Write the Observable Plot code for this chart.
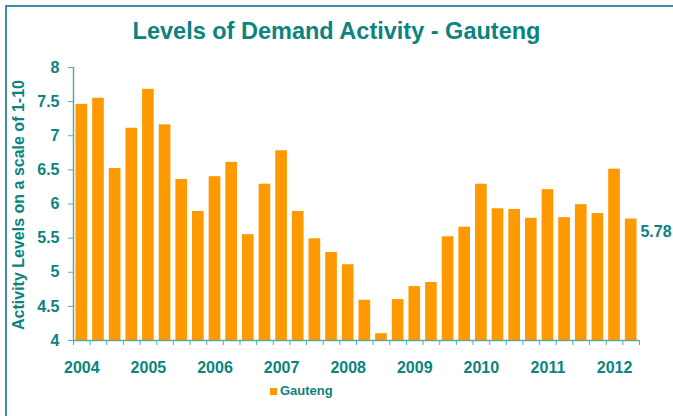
<!DOCTYPE html>
<html>
<head>
<meta charset="utf-8">
<script src="https://cdn.jsdelivr.net/npm/d3@7"></script>
<script src="https://cdn.jsdelivr.net/npm/@observablehq/plot@0.6"></script>
<style>
  html, body { margin: 0; padding: 0; background: #fff; }
  #wrap { position: relative; width: 673px; height: 416px; overflow: hidden;
          font-family: "Liberation Sans", Arial, sans-serif; }
  #frame { position: absolute; left: 5px; top: 5px; width: 680px; height: 420px;
           border-top: 2.5px solid #3d8ea2; border-left: 2.5px solid #3d8ea2; box-sizing: border-box; }
  #title { position: absolute; left: 0; width: 673px; top: 20px; text-align: center;
           font-size: 23.5px; line-height: 23px; font-weight: bold; color: #0b837f; white-space: nowrap; }
  #ylabel { position: absolute; width: 320px; left: -141px; top: 196.5px; height: 16px;
            font-size: 16px; line-height: 16px; font-weight: bold; color: #0b837f; text-align: center;
            transform: rotate(-90deg); transform-origin: 160px 8px; white-space: nowrap; }
  #legend { position: absolute; left: 270px; top: 383px; font-size: 13px; line-height: 16px;
            font-weight: bold; color: #0b837f; white-space: nowrap; }
  #legend .sw { display: inline-block; width: 7px; height: 7px; background: #ff9900; margin-right: 3px; vertical-align: 0px; }
  #chart { position: absolute; left: 0; top: 0; }
</style>
</head>
<body>
<div id="wrap">
  <div id="frame"></div>
  <div id="chart"></div>
  <div id="title">Levels of Demand Activity - Gauteng</div>
  <div id="ylabel">Activity Levels on a scale of 1-10</div>
  <div id="legend"><span class="sw"></span>Gauteng</div>
</div>
<script>
const quarters = [
  "2004 Q1","2004 Q2","2004 Q3","2004 Q4",
  "2005 Q1","2005 Q2","2005 Q3","2005 Q4",
  "2006 Q1","2006 Q2","2006 Q3","2006 Q4",
  "2007 Q1","2007 Q2","2007 Q3","2007 Q4",
  "2008 Q1","2008 Q2","2008 Q3","2008 Q4",
  "2009 Q1","2009 Q2","2009 Q3","2009 Q4",
  "2010 Q1","2010 Q2","2010 Q3","2010 Q4",
  "2011 Q1","2011 Q2","2011 Q3","2011 Q4",
  "2012 Q1","2012 Q2"
];
const gauteng = [
  7.46, 7.55, 6.52, 7.11,
  7.68, 7.16, 6.36, 5.89,
  6.40, 6.61, 5.55, 6.29,
  6.78, 5.89, 5.49, 5.29,
  5.11, 4.59, 4.10, 4.60,
  4.79, 4.85, 5.52, 5.66,
  6.29, 5.93, 5.92, 5.79,
  6.21, 5.80, 5.99, 5.86,
  6.51, 5.78
];
const yearTicks = ["2004 Q1","2005 Q1","2006 Q1","2007 Q1","2008 Q1","2009 Q1","2010 Q1","2011 Q1","2012 Q1"];
const yTicks = [4, 4.5, 5, 5.5, 6, 6.5, 7, 7.5, 8];
const lastLabel = "5.78";

const data = quarters.map((q, i) => ({q, v: gauteng[i]}));
const last = data[data.length - 1];

const W = 673, H = 416, mL = 73, mR = 34, mT = 67, mB = 76;
const step = (W - mL - mR) / quarters.length;
const teal = "#0b837f";
const axisCol = "#5aaaa8";
const baseV = 4;

const chart = Plot.plot({
  width: W, height: H,
  marginLeft: mL, marginRight: mR, marginTop: mT, marginBottom: mB,
  style: {fontFamily: "'Liberation Sans', Arial, sans-serif", background: "transparent", overflow: "visible"},
  x: {type: "band", domain: quarters, paddingInner: 0.3, paddingOuter: 0.15, round: false, axis: null},
  y: {domain: [4, 8], axis: null},
  marks: [
    Plot.barY(data, {x: "q", y1: baseV, y2: "v", fill: "#ff9900"}),
    Plot.ruleY([baseV], {stroke: axisCol, strokeWidth: 1.5}),
    Plot.ruleX([quarters[0]], {x: d => d, dx: -step / 2, y1: 4, y2: 8, stroke: axisCol, strokeWidth: 1.5}),
    Plot.ruleX(quarters, {x: d => d, dx: -step / 2, y1: 4, y2: 3.927, stroke: axisCol}),
    Plot.ruleX([quarters[quarters.length - 1]], {x: d => d, dx: step / 2, y1: 4, y2: 3.927, stroke: axisCol}),
    Plot.axisY({ticks: yTicks, tickSize: 5, tickPadding: 9, tickFormat: d => String(d),
      fontSize: 16, fontWeight: "bold", fill: teal, stroke: axisCol, label: null}),
    Plot.axisX({ticks: yearTicks, tickSize: 0, tickPadding: 21, tickFormat: q => q.slice(0, 4),
      fontSize: 16, fontWeight: "bold", fill: teal, label: null}),
    Plot.text([last], {x: "q", y: "v", text: () => lastLabel, dx: 9.3, dy: 12.5, textAnchor: "start",
      lineAnchor: "middle", fontSize: 16, fontWeight: "bold", fill: teal})
  ]
});
document.getElementById("chart").appendChild(chart);
</script>
</body>
</html>
